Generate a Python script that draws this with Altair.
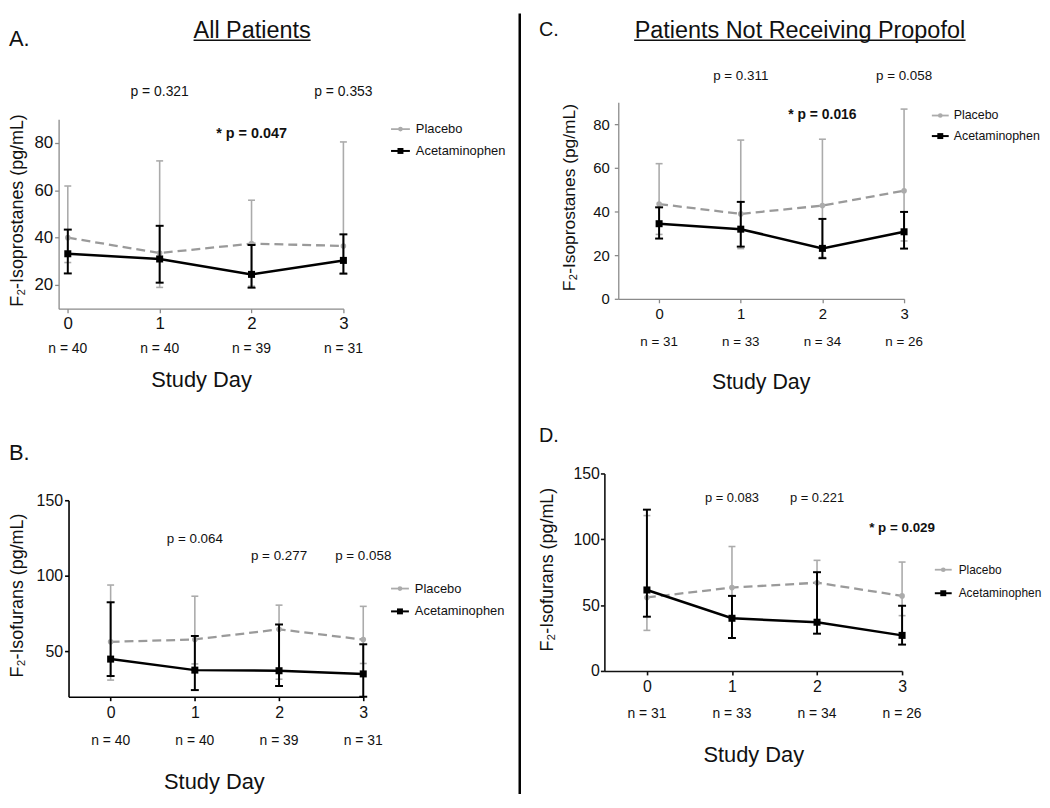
import altair as alt
import pandas as pd

FONT = "Liberation Sans"
days = [0, 1, 2, 3]
groups = ["Placebo", "Acetaminophen"]

# ---- Panel A: F2-Isoprostanes, all patients
A_pla_mean = [40.0, 33.5, 37.5, 36.5]
A_pla_low = [29.5, 19.0, 19.5, 25.0]
A_pla_high = [61.8, 72.4, 55.8, 80.4]
A_ace_mean = [33.2, 31.0, 24.5, 30.4]
A_ace_low = [24.9, 21.0, 18.9, 24.8]
A_ace_high = [43.4, 45.0, 36.9, 41.4]
A_n = ["n = 40", "n = 40", "n = 39", "n = 31"]
A_p_text = ["p = 0.321", "* p = 0.047", "p = 0.353"]
A_p_day = [1, 2, 3]
A_p_bold = [False, True, False]

# ---- Panel B: F2-Isofurans, all patients
B_pla_mean = [56.3, 57.9, 64.6, 57.8]
B_pla_low = [31.0, 41.7, 31.6, 42.0]
B_pla_high = [93.9, 86.5, 80.6, 79.8]
B_ace_mean = [44.9, 37.6, 37.2, 35.1]
B_ace_low = [33.7, 24.4, 27.1, 20.0]
B_ace_high = [82.5, 60.2, 67.8, 54.7]
B_n = ["n = 40", "n = 40", "n = 39", "n = 31"]
B_p_text = ["p = 0.064", "p = 0.277", "p = 0.058"]
B_p_day = [1, 2, 3]
B_p_bold = [False, False, False]

# ---- Panel C: F2-Isoprostanes, no propofol
C_pla_mean = [43.4, 38.9, 42.7, 49.5]
C_pla_low = [29.5, 23.0, 19.0, 26.5]
C_pla_high = [61.9, 72.7, 73.1, 86.9]
C_ace_mean = [34.4, 31.9, 23.1, 30.7]
C_ace_low = [27.6, 23.9, 18.6, 23.0]
C_ace_high = [41.9, 44.4, 36.6, 39.8]
C_n = ["n = 31", "n = 33", "n = 34", "n = 26"]
C_p_text = ["p = 0.311", "* p = 0.016", "p = 0.058"]
C_p_day = [1, 2, 3]
C_p_bold = [False, True, False]

# ---- Panel D: F2-Isofurans, no propofol
D_pla_mean = [55.8, 63.3, 67.0, 57.0]
D_pla_low = [30.8, 41.0, 37.0, 42.0]
D_pla_high = [118.0, 94.5, 84.0, 82.7]
D_ace_mean = [61.5, 40.0, 37.0, 27.0]
D_ace_low = [41.2, 25.0, 28.3, 20.0]
D_ace_high = [122.5, 57.0, 75.0, 49.5]
D_n = ["n = 31", "n = 33", "n = 34", "n = 26"]
D_p_text = ["p = 0.083", "p = 0.221", "* p = 0.029"]
D_p_day = [1, 2, 3]
D_p_bold = [False, False, True]

PLA_BAR = "#ababab"
PLA_LINE = "#9a9a9a"
ACE = "#000000"


def long_df(pm, pl, ph, am, al, ah):
    rows = []
    for g, m, lo, hi in [(groups[0], pm, pl, ph), (groups[1], am, al, ah)]:
        for d, a, b, c in zip(days, m, lo, hi):
            rows.append({"group": g, "day": d, "mean": a, "low": b, "high": c})
    return pd.DataFrame(rows)


def stext(text, x, y, size, align="left", bold=False, angle=0, baseline="alphabetic"):
    kw = dict(font=FONT, fontSize=size, align=align, baseline=baseline,
              fontWeight="bold" if bold else "normal", color="#111111")
    if angle:
        kw["angle"] = angle
    return alt.Chart(pd.DataFrame({"t": [text]})).mark_text(**kw).encode(
        x=alt.value(x), y=alt.value(y), text="t:N")


def panel(L, data, nlab, ptext, pday, pbold):
    df = long_df(*data)
    xs_kw = dict(domain=L["xdom"], nice=False, zero=False)
    if "xrange" in L:
        xs_kw["range"] = L["xrange"]
    ys_kw = dict(domain=L["ydom"], nice=False, zero=False)
    if "yrange" in L:
        ys_kw["range"] = L["yrange"]
    xs = alt.Scale(**xs_kw)
    ys = alt.Scale(**ys_kw)
    ac = L["axis_color"]
    common = dict(title=None, grid=False, labelFlush=False, domainColor=ac, tickColor=ac,
                  domainWidth=L["dw"], tickWidth=L["dw"], tickSize=4,
                  labelFontSize=L["tfs"], labelFont=FONT, labelColor="#111111")
    xaxis = alt.Axis(values=days, format="d", labelPadding=L["xlp"], **common)
    yaxis = alt.Axis(values=L["yticks"], format="d", labelPadding=L["ylp"],
                     offset=L.get("yoff", 0), **common)
    X = alt.X("day:Q", scale=xs, axis=xaxis)

    def Y(f):
        return alt.Y(f + ":Q", scale=ys, axis=yaxis)

    base = alt.Chart(df)
    pla = base.transform_filter(alt.datum.group == groups[0])
    ace = base.transform_filter(alt.datum.group == groups[1])

    layers = [
        pla.mark_rule(color=PLA_BAR, strokeWidth=1.6).encode(x=X, y=Y("low"), y2="high"),
        pla.transform_fold(["low", "high"], as_=["end", "val"]).mark_tick(
            orient="horizontal", size=7, thickness=1.6, color=PLA_BAR, opacity=1).encode(x=X, y=Y("val")),
        pla.mark_line(color=PLA_LINE, strokeWidth=2.3, strokeDash=[9, 5]).encode(x=X, y=Y("mean")),
        pla.mark_point(shape="circle", filled=True, size=32, color=PLA_BAR, opacity=1).encode(x=X, y=Y("mean")),
        ace.mark_rule(color=ACE, strokeWidth=2).encode(x=X, y=Y("low"), y2="high"),
        ace.transform_fold(["low", "high"], as_=["end", "val"]).mark_tick(
            orient="horizontal", size=8, thickness=2, color=ACE, opacity=1).encode(x=X, y=Y("val")),
        ace.mark_line(color=ACE, strokeWidth=2.5).encode(x=X, y=Y("mean")),
        ace.mark_point(shape="square", filled=True, size=50, color=ACE, opacity=1).encode(x=X, y=Y("mean")),
    ]
    # n labels
    layers.append(alt.Chart(pd.DataFrame({"day": days, "n": nlab})).mark_text(
        font=FONT, fontSize=L["nfs"], align="center", baseline="alphabetic", color="#111111").encode(
        x=X, y=alt.value(L["n_y"]), text="n:N"))
    # p labels
    for t, d, b, py in zip(ptext, pday, pbold, L["p_y"]):
        layers.append(alt.Chart(pd.DataFrame({"day": [d], "t": [t]})).mark_text(
            font=FONT, fontSize=L["pfs"] + (0.5 if b else 0), align="center", baseline="alphabetic",
            fontWeight="bold" if b else "normal", color="#111111").encode(
            x=X, y=alt.value(py), text="t:N"))
    # axis titles and labels
    layers.append(stext("Study Day", L["study"][0], L["study"][1], L["sfs"], align="center"))
    layers.append(stext(L["ytitle"], L["yt"][0], L["yt"][1], L["ytfs"], align="center",
                        angle=270, baseline="middle"))
    layers.append(stext(L["letter"], L["let"][0], L["let"][1], L["lfs"]))
    if "title" in L:
        layers.append(stext(L["title"], L["tpos"][0], L["tpos"][1], 23.6, align="center"))
        layers.append(alt.Chart(pd.DataFrame({"a": [0]})).mark_rule(color="#111111", strokeWidth=1.5).encode(
            x=alt.value(L["uline"][0]), x2=alt.value(L["uline"][1]), y=alt.value(L["uline"][2])))
    # legend
    lx0, lx1, ltx = L["leg_x"]
    for g, ly in zip(groups, L["leg_y"]):
        col = PLA_BAR if g == groups[0] else ACE
        ldf = pd.DataFrame({"g": [g]})
        layers.append(alt.Chart(ldf).mark_rule(color=col, strokeWidth=2 if g == groups[1] else 1.8).encode(
            x=alt.value(lx0), x2=alt.value(lx1), y=alt.value(ly)))
        layers.append(alt.Chart(ldf).mark_point(
            shape="circle" if g == groups[0] else "square", filled=True,
            size=22 if g == groups[0] else 36, color=col, opacity=1).encode(
            x=alt.value((lx0 + lx1) / 2), y=alt.value(ly)))
        layers.append(alt.Chart(ldf).mark_text(
            font=FONT, fontSize=L["legfs"], align="left", baseline="middle", color="#111111").encode(
            x=alt.value(ltx), y=alt.value(ly), text="g:N"))
    for extra in L.get("extras", []):
        layers.append(extra)
    return alt.layer(*layers).properties(width=L["width"], height=L["height"])


divider = alt.Chart(pd.DataFrame({"a": [0]})).mark_rule(color="#000000", strokeWidth=2.5).encode(
    x=alt.value(464.7), y=alt.value(-89.5), y2=alt.value(697))
anchor = alt.Chart(pd.DataFrame({"a": [0]})).mark_rule(color="#ffffff", strokeOpacity=0).encode(
    x=alt.value(-50), y=alt.value(-92), y2=alt.value(-91))

LA = dict(width=287, height=208, xdom=[-0.1, 3.0], ydom=[10, 90], yrange=[208, 17],
          yticks=[20, 40, 60, 80], axis_color="#8a8a8a", dw=1.3, tfs=17, xlp=3, ylp=2,
          nfs=14, n_y=252.7, pfs=14, p_y=[-6, 36, -6], study=(144, 287), sfs=22,
          ytitle="F\u2082-Isoprostanes (pg/mL)", yt=(-41, 109), ytfs=18,
          letter="A.", let=(-50, -57), lfs=22,
          title="All Patients", tpos=(195, -65), uline=(136, 254, -62.5),
          leg_x=(335, 354, 360), leg_y=[27, 49], legfs=13, extras=[divider, anchor])
LB = dict(width=307, height=225, xdom=[-0.5, 3.0], xrange=[10, 307], ydom=[20, 150], yrange=[225, 27],
          yticks=[50, 100, 150], axis_color="#000000", dw=1.6, tfs=16, xlp=4, ylp=2, yoff=-10,
          nfs=14, n_y=274, pfs=13.5, p_y=[70, 87, 87], study=(157, 318), sfs=22,
          ytitle="F\u2082-Isofurans (pg/mL)", yt=(-41, 123), ytfs=18,
          letter="B.", let=(-50, -14), lfs=22,
          leg_x=(335, 353, 359), leg_y=[116, 139], legfs=13)
LC = dict(width=288, height=198, xdom=[-0.5, 3.0], ydom=[0, 90],
          yticks=[0, 20, 40, 60, 80], axis_color="#8a8a8a", dw=1.3, tfs=15, xlp=4, ylp=5,
          nfs=13.5, n_y=245.7, pfs=13.5, p_y=[-22.3, 17.3, -22.3], study=(144, 289), sfs=21.5,
          ytitle="F\u2082-Isoprostanes (pg/mL)", yt=(-49, 96), ytfs=17.5,
          letter="C.", let=(-80, -67), lfs=20,
          title="Patients Not Receiving Propofol", tpos=(183, -65), uline=(16, 350, -62.5),
          leg_x=(316, 333, 338), leg_y=[13.3, 34], legfs=12.5)
LD = dict(width=300, height=199, xdom=[-0.5, 3.0], ydom=[0, 150],
          yticks=[0, 50, 100, 150], axis_color="#111111", dw=1.6, tfs=16, xlp=4, ylp=1,
          nfs=14, n_y=246.3, pfs=13, p_y=[28.7, 28.7, 58.7], study=(150.5, 291), sfs=22,
          ytitle="F\u2082-Isofurans (pg/mL)", yt=(-57, 97), ytfs=18,
          letter="D.", let=(-66, -32), lfs=20,
          leg_x=(333, 350, 357), leg_y=[97, 120.7], legfs=12)

pA = panel(LA, (A_pla_mean, A_pla_low, A_pla_high, A_ace_mean, A_ace_low, A_ace_high), A_n, A_p_text, A_p_day, A_p_bold)
pB = panel(LB, (B_pla_mean, B_pla_low, B_pla_high, B_ace_mean, B_ace_low, B_ace_high), B_n, B_p_text, B_p_day, B_p_bold)
pC = panel(LC, (C_pla_mean, C_pla_low, C_pla_high, C_ace_mean, C_ace_low, C_ace_high), C_n, C_p_text, C_p_day, C_p_bold)
pD = panel(LD, (D_pla_mean, D_pla_low, D_pla_high, D_ace_mean, D_ace_low, D_ace_high), D_n, D_p_text, D_p_day, D_p_bold)

row1 = alt.hconcat(pA, pC, spacing=277, bounds="flush")
row2 = alt.hconcat(pB, pD, spacing=243, bounds="flush")
chart = alt.vconcat(row1, row2, spacing=374, bounds="flush").properties(
    padding={"left": 0, "top": 0, "right": 0, "bottom": 0}
).configure_view(stroke=None)

chart.save("out.html", embed_options={"renderer": "svg", "actions": False})
